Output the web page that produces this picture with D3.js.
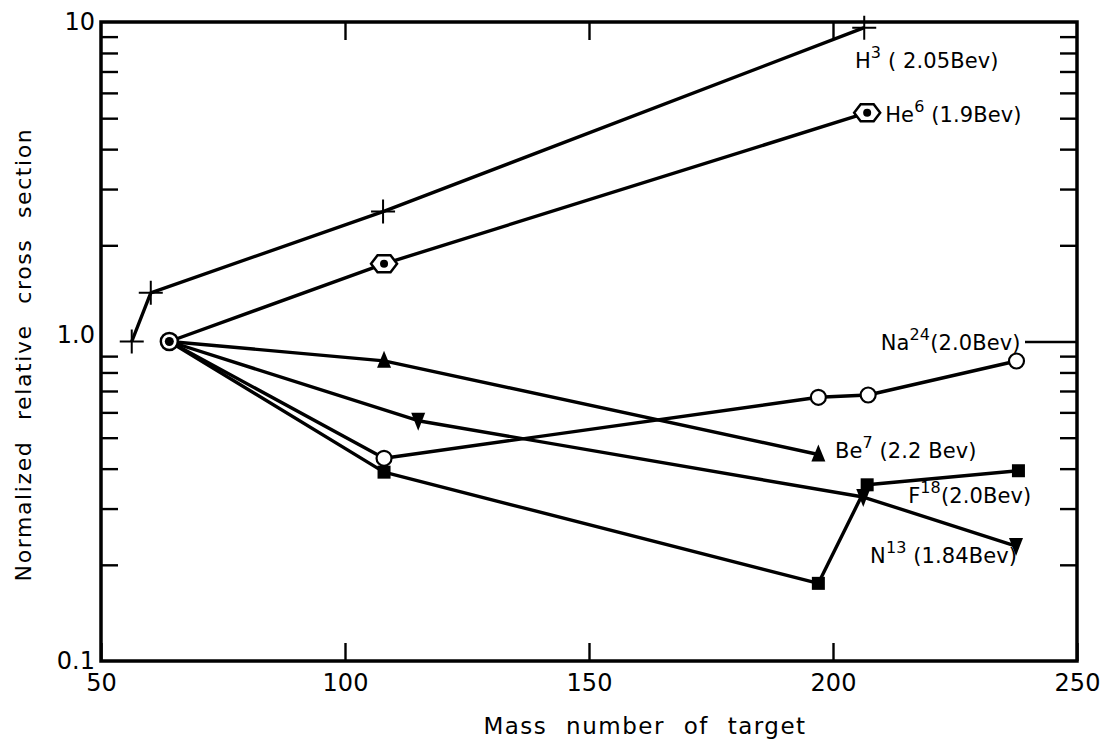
<!DOCTYPE html>
<html>
<head>
<meta charset="utf-8">
<script src="https://cdn.jsdelivr.net/npm/d3@7"></script>
<style>
  body { margin: 0; background: #fff; }
  text { font-family: "DejaVu Sans", sans-serif; fill: #000; }
</style>
</head>
<body>
<div id="chart"></div>
<script>
// ---------------------------------------------------------------
// data (mass number, normalized cross section)

const massH3 = [56.3, 60.2, 107.8, 206.4];
const valH3  = [1.0, 1.42, 2.55, 9.6];

const massHe6 = [64, 108, 207];
const valHe6  = [1.0, 1.75, 5.2];

const massNa24 = [64, 108, 197, 207.2, 237.6];
const valNa24  = [1.0, 0.431, 0.669, 0.68, 0.869];

const massBe7 = [64, 108, 197];
const valBe7  = [1.0, 0.87, 0.443];

const massF18 = [64, 108, 197, 207, 238];
const valF18  = [1.0, 0.39, 0.175, 0.356, 0.394];

const massN13 = [64, 115, 206.2, 237.5];
const valN13  = [1.0, 0.565, 0.326, 0.229];

const xTicks = [50, 100, 150, 200, 250];
const yMajor = [0.1, 1, 10];
const yMajorLabels = ["0.1", "1.0", "10"];
const yMinor = [0.2, 0.3, 0.4, 0.5, 0.6, 0.7, 0.8, 0.9, 2, 3, 4, 5, 6, 7, 8, 9];

const series = [
  { name: "H3",   mass: massH3,   val: valH3,   marker: "plus" },
  { name: "He6",  mass: massHe6,  val: valHe6,  marker: "hex" },
  { name: "Na24", mass: massNa24, val: valNa24, marker: "circle" },
  { name: "Be7",  mass: massBe7,  val: valBe7,  marker: "tri" },
  { name: "F18",  mass: massF18,  val: valF18,  marker: "square" },
  { name: "N13",  mass: massN13,  val: valN13,  marker: "tridown" }
];

// label text: [element, superscript, rest], anchored in data units
const labels = [
  { el: "H",  sup: "3",  rest: " ( 2.05Bev)", at: [204.5, 7.18] },
  { el: "He", sup: "6",  rest: " (1.9Bev)",   at: [210.7, 4.86] },
  { el: "Na", sup: "24", rest: "(2.0Bev)",    at: [209.8, 0.94] },
  { el: "Be", sup: "7",  rest: " (2.2 Bev)",  at: [200.4, 0.432] },
  { el: "F",  sup: "18", rest: "(2.0Bev)",    at: [215.4, 0.312] },
  { el: "N",  sup: "13", rest: " (1.84Bev)",  at: [207.6, 0.2026] }
];

// ---------------------------------------------------------------
// layout

let width = 1101, height = 741;
let margin = { left: 101, right: 24, top: 22, bottom: 80 };

let svg = d3.select("#chart")
  .append("svg")
  .attr("width", width)
  .attr("height", height);

let xScale = d3.scaleLinear().domain([50, 250]).range([margin.left, width - margin.right]);
let yScale = d3.scaleLog().domain([0.1, 10]).range([height - margin.bottom, margin.top]);

// bottom axis with labels, ticks pointing inward
let xAxis = d3.axisBottom(xScale).tickValues(xTicks).tickSize(-18).tickSizeOuter(0);
svg.append("g")
  .attr("class", "xaxis")
  .attr("transform", `translate(0,${yScale(0.1)})`)
  .call(xAxis);

// top axis ticks only
svg.append("g")
  .attr("class", "topaxis")
  .attr("transform", `translate(0,${yScale(10)})`)
  .call(d3.axisTop(xScale).tickValues([100, 150, 200]).tickSize(-18).tickSizeOuter(0).tickFormat(""));

// left axis: labels on the decades, minor ticks inward
svg.append("g")
  .attr("class", "ylab")
  .attr("transform", `translate(${xScale(50)},0)`)
  .call(d3.axisLeft(yScale).tickValues(yMajor).tickSize(0).tickSizeOuter(0).tickPadding(6)
        .tickFormat((d, i) => yMajorLabels[i]));

svg.append("g")
  .attr("class", "yminor")
  .attr("transform", `translate(${xScale(50)},0)`)
  .call(d3.axisLeft(yScale).tickValues(yMinor).tickSize(-17).tickSizeOuter(0).tickFormat(""));

// right axis minor ticks + long tick at 1.0
svg.append("g")
  .attr("class", "yright")
  .attr("transform", `translate(${xScale(250)},0)`)
  .call(d3.axisRight(yScale).tickValues(yMinor).tickSize(-17).tickSizeOuter(0).tickFormat(""));

svg.append("g")
  .attr("class", "yright1")
  .attr("transform", `translate(${xScale(250)},0)`)
  .call(d3.axisRight(yScale).tickValues([1]).tickSize(-52).tickSizeOuter(0).tickFormat(""));

svg.selectAll(".domain").remove();
svg.selectAll(".tick line").attr("stroke", "#000").attr("stroke-width", 2.4);
svg.selectAll(".xaxis text").attr("font-size", 24).attr("dy", "0").attr("y", 30);
svg.selectAll(".ylab text").attr("font-size", 24).attr("dy", "0.3em");
svg.selectAll(".ylab .tick").filter(d => d == 1).select("text").attr("dy", "0.05em");

// frame
svg.append("rect")
  .attr("x", xScale(50))
  .attr("y", yScale(10))
  .attr("width", xScale(250) - xScale(50))
  .attr("height", yScale(0.1) - yScale(10))
  .attr("fill", "none")
  .attr("stroke", "#000")
  .attr("stroke-width", 3.5);

// axis titles
svg.append("text")
  .attr("x", xScale(150) + 56)
  .attr("y", 734)
  .attr("text-anchor", "middle")
  .attr("font-size", 23)
  .style("letter-spacing", "1.5px")
  .style("word-spacing", "10px")
  .text("Mass number of target");

svg.append("text")
  .attr("transform", `translate(31,${yScale(1) + 13}) rotate(-90)`)
  .attr("text-anchor", "middle")
  .attr("font-size", 22)
  .style("letter-spacing", "1.6px")
  .style("word-spacing", "12px")
  .text("Normalized relative cross section");

// ---------------------------------------------------------------
// lines

let line = d3.line()
  .x(d => xScale(d[0]))
  .y(d => yScale(d[1]));

let lineG = svg.append("g").attr("class", "lines");
series.forEach(s => {
  let pts = s.mass.map((m, i) => [m, s.val[i]]);
  lineG.append("path")
    .attr("d", line(pts))
    .attr("fill", "none")
    .attr("stroke", "#000")
    .attr("stroke-width", 3.4)
    .attr("stroke-linejoin", "round");
});

// ---------------------------------------------------------------
// markers

function drawMarker(g, type, cx, cy) {
  if (type == "plus") {
    g.append("path")
      .attr("d", `M${cx - 12},${cy} H${cx + 12} M${cx},${cy - 12} V${cy + 12}`)
      .attr("stroke", "#000").attr("stroke-width", 2);
  } else if (type == "hex") {
    let w = 13, h = 8.5;
    g.append("path")
      .attr("d", `M${cx - w},${cy} L${cx - w / 2},${cy - h} L${cx + w / 2},${cy - h} L${cx + w},${cy} L${cx + w / 2},${cy + h} L${cx - w / 2},${cy + h} Z`)
      .attr("fill", "#fff").attr("stroke", "#000").attr("stroke-width", 2.5);
    g.append("circle").attr("cx", cx).attr("cy", cy).attr("r", 4).attr("fill", "#000");
  } else if (type == "circle") {
    g.append("circle").attr("cx", cx).attr("cy", cy).attr("r", 7.5)
      .attr("fill", "#fff").attr("stroke", "#000").attr("stroke-width", 2.2);
  } else if (type == "tri") {
    g.append("path")
      .attr("d", `M${cx},${cy - 10} L${cx + 7},${cy + 7} L${cx - 7},${cy + 7} Z`)
      .attr("fill", "#000");
  } else if (type == "tridown") {
    g.append("path")
      .attr("d", `M${cx - 7},${cy - 8} L${cx + 7},${cy - 8} L${cx},${cy + 10} Z`)
      .attr("fill", "#000");
  } else if (type == "square") {
    g.append("rect").attr("x", cx - 6.5).attr("y", cy - 6.5).attr("width", 13).attr("height", 13)
      .attr("fill", "#000");
  }
}

let markG = svg.append("g").attr("class", "markers");
series.forEach(s => {
  s.mass.forEach((m, i) => {
    // the shared normalization point is drawn separately below
    if (m == 64 && s.val[i] == 1.0) return;
    drawMarker(markG, s.marker, xScale(m), yScale(s.val[i]));
  });
});

// common point at A = 64: ringed dot
markG.append("circle").attr("cx", xScale(64)).attr("cy", yScale(1))
  .attr("r", 8.5).attr("fill", "#fff").attr("stroke", "#000").attr("stroke-width", 2.5);
markG.append("circle").attr("cx", xScale(64)).attr("cy", yScale(1))
  .attr("r", 4.5).attr("fill", "#000");

// ---------------------------------------------------------------
// labels

let labG = svg.append("g").attr("class", "labels");
labels.forEach(l => {
  let t = labG.append("text")
    .attr("x", xScale(l.at[0]))
    .attr("y", yScale(l.at[1]))
    .attr("font-size", 21)
    .style("letter-spacing", "0.1px");
  t.append("tspan").text(l.el);
  t.append("tspan").attr("dy", -10).attr("font-size", 16).text(l.sup);
  t.append("tspan").attr("dy", 10).text(l.rest);
});
</script>
</body>
</html>
